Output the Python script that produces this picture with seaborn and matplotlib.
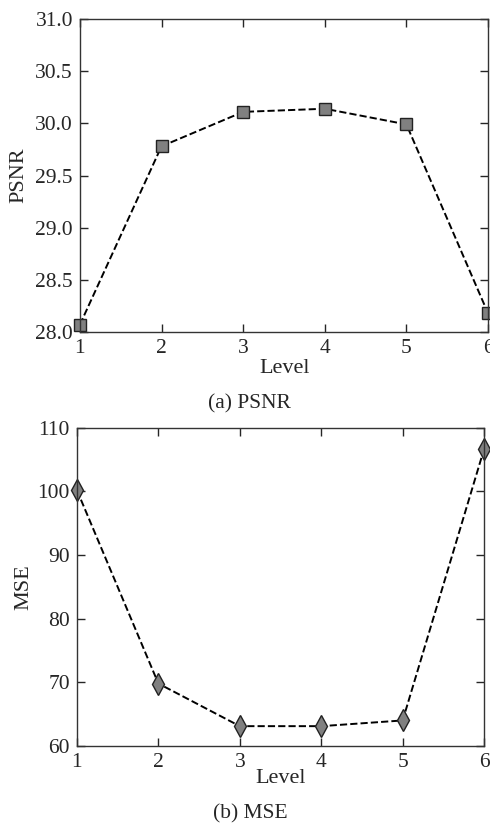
import matplotlib
matplotlib.use("Agg")
import matplotlib.pyplot as plt
import seaborn as sns

levels = [1, 2, 3, 4, 5, 6]
psnr = [28.07, 29.78, 30.11, 30.14, 29.99, 28.18]
mse = [100.2, 69.8, 63.1, 63.1, 64.0, 106.7]

sns.set_style("ticks", {"xtick.direction": "in", "ytick.direction": "in"})
plt.rcParams['font.family'] = ['Liberation Serif', 'DejaVu Serif']
plt.rcParams['font.size'] = 15.5
plt.rcParams['axes.edgecolor'] = '#333333'

fig = plt.figure(figsize=(4.9, 8.26), dpi=100)
ax1 = fig.add_axes([0.163, 0.598, 0.833, 0.379])
ax2 = fig.add_axes([0.157, 0.097, 0.831, 0.385])

sns.lineplot(x=levels, y=psnr, ax=ax1, color='black', linestyle='--', linewidth=1.4,
             marker='s', markersize=8, markerfacecolor='#808080',
             markeredgecolor='#222222', markeredgewidth=1, clip_on=False)
ax1.set_xlim(1, 6)
ax1.set_ylim(28.0, 31.0)
ax1.set_yticks([28.0, 28.5, 29.0, 29.5, 30.0, 30.5, 31.0])
ax1.set_yticklabels(['28.0', '28.5', '29.0', '29.5', '30.0', '30.5', '31.0'])
ax1.set_xlabel('Level')
ax1.set_ylabel('PSNR')
ax1.xaxis.set_label_coords(0.502, -0.085)
ax1.yaxis.set_label_coords(-0.125, 0.5)

sns.lineplot(x=levels, y=mse, ax=ax2, color='black', linestyle='--', linewidth=1.4,
             marker='d', markersize=11, markerfacecolor='#808080',
             markeredgecolor='#222222', markeredgewidth=1, clip_on=False)
ax2.set_xlim(1, 6)
ax2.set_ylim(60, 110)
ax2.set_yticks([60, 70, 80, 90, 100, 110])
ax2.set_xlabel('Level')
ax2.set_ylabel('MSE')
ax2.xaxis.set_label_coords(0.501, -0.074)
ax2.yaxis.set_label_coords(-0.108, 0.5)

for ax in (ax1, ax2):
    ax.set_xticks(levels)
    ax.tick_params(top=True, right=True, length=6, width=1, labelsize=15.5, pad=5)
    for s in ax.spines.values():
        s.set_linewidth(1)
    ax.xaxis.label.set_size(16)
    ax.yaxis.label.set_size(16)

fig.text(0.51, 0.511, '(a) PSNR', ha='center', va='center', fontsize=15.5)
fig.text(0.51, 0.0145, '(b) MSE', ha='center', va='center', fontsize=15.5)

fig.savefig('out.png', dpi=100)
